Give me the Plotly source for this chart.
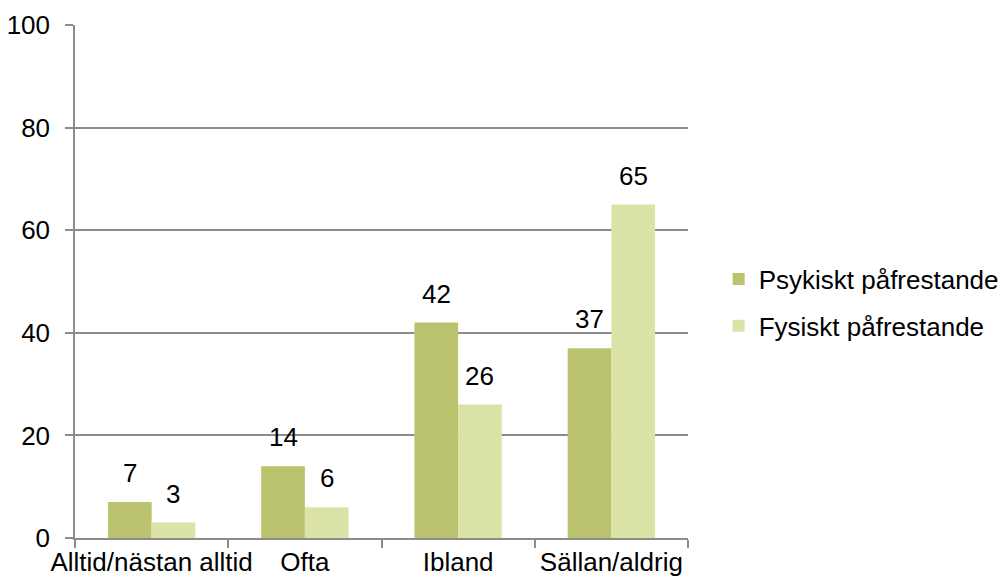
import plotly.graph_objects as go

categories = ["Alltid/nästan alltid", "Ofta", "Ibland", "Sällan/aldrig"]
psykiskt = [7, 14, 42, 37]
fysiskt = [3, 6, 26, 65]
series_names = ["Psykiskt påfrestande", "Fysiskt påfrestande"]
colors = ["#BBC36E", "#DCE3A7"]

FONT = "Liberation Sans, Arial, sans-serif"
FS = 26
BARGAP = 0.43
fig = go.Figure()
for name, vals, col, grp in [(series_names[0], psykiskt, colors[0], "a"),
                             (series_names[1], fysiskt, colors[1], "b")]:
    fig.add_trace(go.Bar(
        x=categories, y=vals, name=name, marker_color=col, marker_line_width=0,
        legendgroup=grp,
    ))

# data labels above bars
half = (1 - BARGAP) / 2  # bar width in category units
for vals, side in [(psykiskt, -1), (fysiskt, 1)]:
    for i, v in enumerate(vals):
        fig.add_annotation(
            x=i + side * half / 2, y=v, xref="x", yref="y",
            text=str(v), showarrow=False, yanchor="bottom", yshift=12,
            font=dict(size=FS, family=FONT, color="#000000"),
        )

# page body has an 8px margin, so the figure is sized to fit the 1006x580 window
fig.update_layout(
    width=998, height=572,
    margin=dict(l=67, r=318, t=17, b=42, autoexpand=False),
    plot_bgcolor="white", paper_bgcolor="white",
    barmode="group", bargap=BARGAP, bargroupgap=0,
    font=dict(family=FONT, size=FS, color="#000000"),
    showlegend=True,
    legend=dict(x=1.05, xanchor="left", y=0.459, yanchor="middle",
                font=dict(size=FS, family=FONT, color="#000000"),
                tracegroupgap=10, itemwidth=30, bgcolor="rgba(0,0,0,0)"),
)
fig.update_xaxes(
    type="category", range=[-0.5, 3.5], showgrid=False, automargin=False,
    showline=True, linecolor="#8C8C8C", linewidth=1.5,
    ticks="outside", tickson="boundaries", ticklen=8, tickcolor="#8C8C8C", tickwidth=1.5,
    tickangle=0, tickfont=dict(size=FS, family=FONT, color="#000000"),
)
fig.update_yaxes(
    range=[0, 100], dtick=20, showgrid=True, gridcolor="#8C8C8C", gridwidth=1.5,
    showline=True, linecolor="#8C8C8C", linewidth=1.5, automargin=False,
    zeroline=False,
    ticks="outside", ticklen=8, tickcolor="#8C8C8C", tickwidth=1.5,
    ticklabelstandoff=10,
    tickfont=dict(size=FS, family=FONT, color="#000000"),
)

fig.write_html("out.html")
